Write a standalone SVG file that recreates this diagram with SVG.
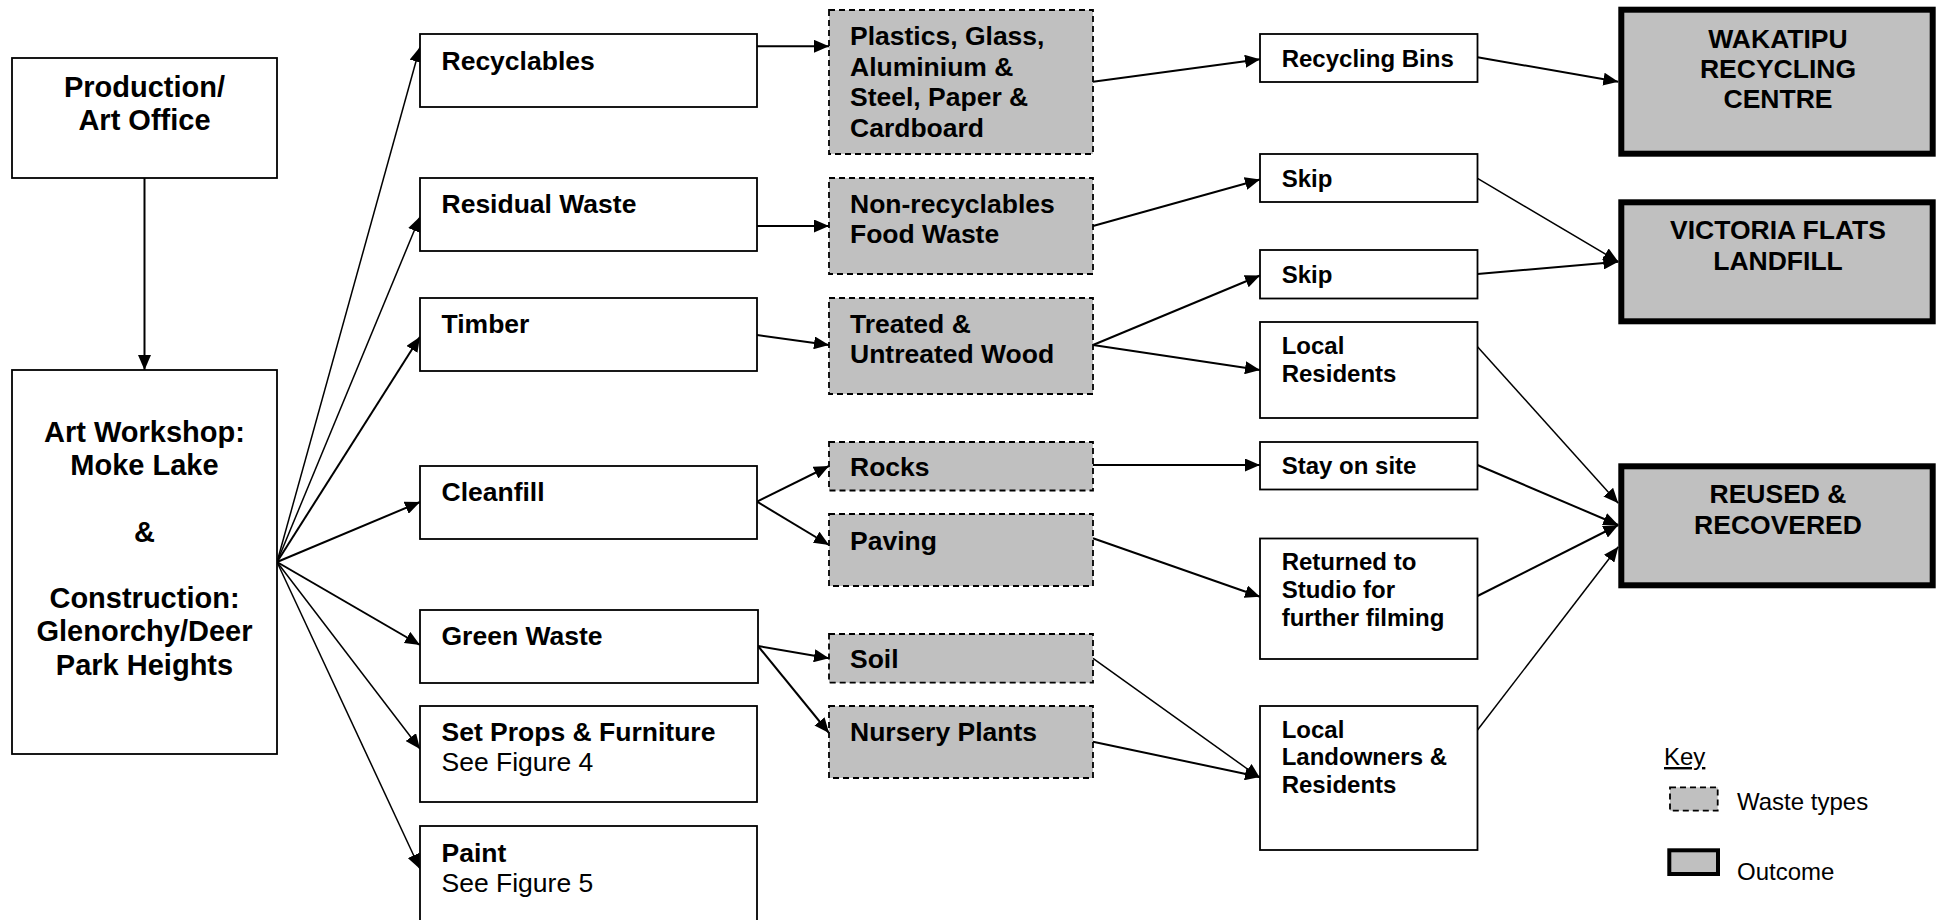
<svg xmlns="http://www.w3.org/2000/svg" width="1939" height="920" viewBox="0 0 1939 920">
<defs>
<style>
text{font-family:"Liberation Sans",Arial,Helvetica,sans-serif;fill:#000}
.b{fill:#fff;stroke:#000;stroke-width:1.8}
.w{fill:#c0c0c0;stroke:#000;stroke-width:1.8;stroke-dasharray:6 4}
.o{fill:#c0c0c0;stroke:#000;stroke-width:6}
.t1{font-size:29px;font-weight:bold;text-anchor:middle}
.t2{font-size:26.5px;font-weight:bold}
.t2r{font-size:26.5px}
.t4{font-size:24px;font-weight:bold}
.t5{font-size:26.5px;font-weight:bold;text-anchor:middle}
.k{font-size:24px}
.c line{stroke:#000;stroke-width:2;marker-end:url(#ah)}
.c line.th{stroke-width:1.5}
</style>
<marker id="ah" markerUnits="userSpaceOnUse" markerWidth="15" markerHeight="13" refX="15" refY="6.5" orient="auto">
<path d="M0,0 L15,6.5 L0,13 z" fill="#000"/>
</marker>
</defs>
<rect width="1939" height="920" fill="#fff"/>

<g id="connectors" class="c">
<line x1="144.5" y1="178" x2="144.5" y2="370"/>
<line class="th" x1="277" y1="562" x2="420" y2="47"/>
<line class="th" x1="277" y1="562" x2="420" y2="216.7"/>
<line x1="277" y1="562" x2="420" y2="336.7"/>
<line x1="277" y1="562" x2="420" y2="502"/>
<line x1="277" y1="562" x2="420" y2="645"/>
<line class="th" x1="277" y1="562" x2="420" y2="749"/>
<line class="th" x1="277" y1="562" x2="420" y2="869"/>
<line x1="757" y1="46.3" x2="829" y2="46.3"/>
<line x1="757" y1="226" x2="829" y2="226"/>
<line x1="757" y1="335" x2="829" y2="345"/>
<line x1="757" y1="501.7" x2="829" y2="466"/>
<line x1="757" y1="501.7" x2="829" y2="545"/>
<line x1="758" y1="646" x2="829" y2="658.3"/>
<line x1="758" y1="646" x2="829" y2="733"/>
<line x1="1093" y1="81.7" x2="1260" y2="59.3"/>
<line x1="1093" y1="226" x2="1260" y2="179.5"/>
<line x1="1093" y1="345" x2="1260" y2="275.5"/>
<line x1="1093" y1="345" x2="1260" y2="370"/>
<line x1="1093" y1="465" x2="1260" y2="465"/>
<line x1="1093" y1="538.3" x2="1260" y2="596.7"/>
<line class="th" x1="1093" y1="658.3" x2="1260" y2="778"/>
<line x1="1093" y1="741.7" x2="1260" y2="777"/>
<line x1="1477.5" y1="57.3" x2="1618.3" y2="81.7"/>
<line class="th" x1="1477.5" y1="178.3" x2="1618.3" y2="261.7"/>
<line x1="1477.5" y1="274" x2="1618.3" y2="261.7"/>
<line class="th" x1="1477.5" y1="346.7" x2="1618.3" y2="503.3"/>
<line x1="1477.5" y1="465" x2="1618.3" y2="525"/>
<line x1="1477.5" y1="596" x2="1618.3" y2="525"/>
<line class="th" x1="1477.5" y1="730" x2="1618.3" y2="546.7"/>
</g>

<g id="production"><rect class="b" x="12" y="58" width="265" height="120"/>
<text class="t1" x="144.5" y="97">Production/</text><text class="t1" x="144.5" y="130">Art Office</text></g>
<g id="artworkshop"><rect class="b" x="12" y="370" width="265" height="384"/>
<text class="t1" x="144.5" y="442">Art Workshop:</text>
<text class="t1" x="144.5" y="475">Moke Lake</text>
<text class="t1" x="144.5" y="542">&amp;</text>
<text class="t1" x="144.5" y="608">Construction:</text>
<text class="t1" x="144.5" y="641">Glenorchy/Deer</text>
<text class="t1" x="144.5" y="675">Park Heights</text></g>

<g id="recyclables"><rect class="b" x="420" y="34" width="337" height="73"/><text class="t2" x="441.5" y="70">Recyclables</text></g>
<g id="residual"><rect class="b" x="420" y="178" width="337" height="73"/><text class="t2" x="441.5" y="213">Residual Waste</text></g>
<g id="timber"><rect class="b" x="420" y="298" width="337" height="73"/><text class="t2" x="441.5" y="333">Timber</text></g>
<g id="cleanfill"><rect class="b" x="420" y="466" width="337" height="73"/><text class="t2" x="441.5" y="501">Cleanfill</text></g>
<g id="greenwaste"><rect class="b" x="420" y="610" width="338" height="73"/><text class="t2" x="441.5" y="645">Green Waste</text></g>
<g id="setprops"><rect class="b" x="420" y="706" width="337" height="96"/><text class="t2" x="441.5" y="741">Set Props &amp; Furniture</text><text class="t2r" x="441.5" y="771">See Figure 4</text></g>
<g id="paint"><rect class="b" x="420" y="826" width="337" height="110"/><text class="t2" x="441.5" y="861.5">Paint</text><text class="t2r" x="441.5" y="891.5">See Figure 5</text></g>

<g id="plastics"><rect class="w" x="829" y="10" width="264" height="144"/>
<text class="t2" x="850" y="45">Plastics, Glass,</text><text class="t2" x="850" y="75.5">Aluminium &amp;</text><text class="t2" x="850" y="106">Steel, Paper &amp;</text><text class="t2" x="850" y="137">Cardboard</text></g>
<g id="nonrecyclables"><rect class="w" x="829" y="178" width="264" height="96"/>
<text class="t2" x="850" y="212.7">Non-recyclables</text><text class="t2" x="850" y="243.3">Food Waste</text></g>
<g id="wood"><rect class="w" x="829" y="298" width="264" height="96"/>
<text class="t2" x="850" y="333.3">Treated &amp;</text><text class="t2" x="850" y="363.3">Untreated Wood</text></g>
<g id="rocks"><rect class="w" x="829" y="442" width="264" height="48.5"/><text class="t2" x="850" y="475.5">Rocks</text></g>
<g id="paving"><rect class="w" x="829" y="514" width="264" height="72"/><text class="t2" x="850" y="550">Paving</text></g>
<g id="soil"><rect class="w" x="829" y="634" width="264" height="48.7"/><text class="t2" x="850" y="668.3">Soil</text></g>
<g id="nursery"><rect class="w" x="829" y="706" width="264" height="72"/><text class="t2" x="850" y="741">Nursery Plants</text></g>

<g id="bins"><rect class="b" x="1260" y="34" width="217.5" height="48"/><text class="t4" x="1281.7" y="66.7">Recycling Bins</text></g>
<g id="skip1"><rect class="b" x="1260" y="154" width="217.5" height="48"/><text class="t4" x="1281.7" y="186.7">Skip</text></g>
<g id="skip2"><rect class="b" x="1260" y="250" width="217.5" height="48.5"/><text class="t4" x="1281.7" y="283.3">Skip</text></g>
<g id="localresidents"><rect class="b" x="1260" y="322" width="217.5" height="96"/><text class="t4" x="1281.7" y="354">Local</text><text class="t4" x="1281.7" y="381.7">Residents</text></g>
<g id="stay"><rect class="b" x="1260" y="442" width="217.5" height="47.5"/><text class="t4" x="1281.7" y="473.5">Stay on site</text></g>
<g id="returned"><rect class="b" x="1260" y="538.5" width="217.5" height="120.5"/><text class="t4" x="1281.7" y="570">Returned to</text><text class="t4" x="1281.7" y="597.7">Studio for</text><text class="t4" x="1281.7" y="625.7">further filming</text></g>
<g id="landowners"><rect class="b" x="1260" y="706" width="217.5" height="144"/><text class="t4" x="1281.7" y="737.7">Local</text><text class="t4" x="1281.7" y="765">Landowners &amp;</text><text class="t4" x="1281.7" y="793.3">Residents</text></g>

<g id="wakatipu"><rect class="o" x="1621.3" y="9.7" width="311.4" height="144"/>
<text class="t5" x="1778" y="48">WAKATIPU</text><text class="t5" x="1778" y="78.3">RECYCLING</text><text class="t5" x="1778" y="108.3">CENTRE</text></g>
<g id="victoria"><rect class="o" x="1621.3" y="202.3" width="311.4" height="119"/>
<text class="t5" x="1778" y="239.3">VICTORIA FLATS</text><text class="t5" x="1778" y="270">LANDFILL</text></g>
<g id="reused"><rect class="o" x="1621.3" y="466.3" width="311.4" height="119"/>
<text class="t5" x="1778" y="503.3">REUSED &amp;</text><text class="t5" x="1778" y="534">RECOVERED</text></g>

<g id="key">
<text class="k" x="1664" y="765" text-decoration="underline">Key</text>
<rect class="w" x="1670" y="787.3" width="47.7" height="23.4"/>
<text class="k" x="1737" y="810">Waste types</text>
<rect fill="#c0c0c0" stroke="#000" stroke-width="4" x="1669.3" y="850.3" width="48.7" height="23.7"/>
<text class="k" x="1737" y="880">Outcome</text>
</g>
</svg>
